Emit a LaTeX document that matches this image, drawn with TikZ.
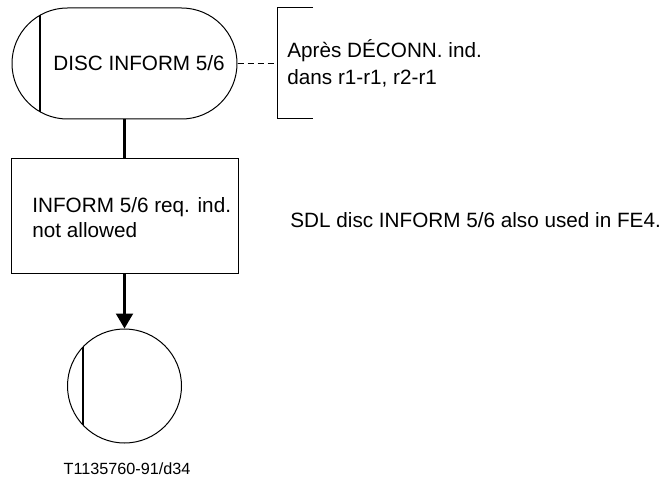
\documentclass[tikz,border=0pt]{standalone}
\usepackage{fontspec}
\setmainfont{Liberation Sans}
\usetikzlibrary{arrows.meta}

\begin{document}
\begin{tikzpicture}[x=0.5pt,y=-0.5pt]
	\tikzstyle{every node}=[inner sep=0pt, font=\fontsize{10.35pt}{13pt}\selectfont]
	\tikzstyle{outline}=[draw, line width=0.5pt]
	\tikzstyle{conn}=[line width=1.1pt]
	\tikzstyle{bar}=[line width=1pt]
	\useasboundingbox (0,0) rectangle (664,481);
	
	\node[outline, rounded corners=27.7pt, minimum width=112.5pt, minimum height=55.5pt] (disc) at (124.5,63.5) {};
	\node[anchor=west] (disctext) at (53,63.5) {DISC INFORM 5/6};
	\draw[bar] (40,15.3) to (40,111.7);
	
	\coordinate (notetip) at (277,63.5);
	\draw[line width=0.5pt] (313,8) -- (277,8) -- (277,119) -- (313,119);
	\node[anchor=west, align=left, font=\fontsize{10.35pt}{13.5pt}\selectfont] (notetext) at (287,63.5) {Après DÉCONN. ind.\\dans r1-r1, r2-r1};
	\draw[line width=0.9pt, dash pattern=on 3pt off 2pt] (disc) to (notetip);
	
	\node[outline, minimum width=113.5pt, minimum height=57pt] (req) at (124.5,216) {};
	\node[anchor=west, align=left, font=\fontsize{10.35pt}{12.5pt}\selectfont] (reqtext) at (32,217.5) {INFORM 5/6 req. ind.\\not allowed};
	\node[anchor=west] (sdl) at (290,220) {SDL disc INFORM 5/6 also used in FE4.};
	
	\node[outline, circle, minimum size=57pt] (next) at (124.5,386) {};
	\draw[bar] (83,347) to (83,425);
	
	\draw[conn] (disc) to (req);
	\draw[conn, -{Triangle[width=8.5pt,length=7.5pt]}] (req) to (next);
	
	\node[font=\fontsize{8.1pt}{10pt}\selectfont] (fig) at (127,469) {T1135760-91/d34};
\end{tikzpicture}
\end{document}
